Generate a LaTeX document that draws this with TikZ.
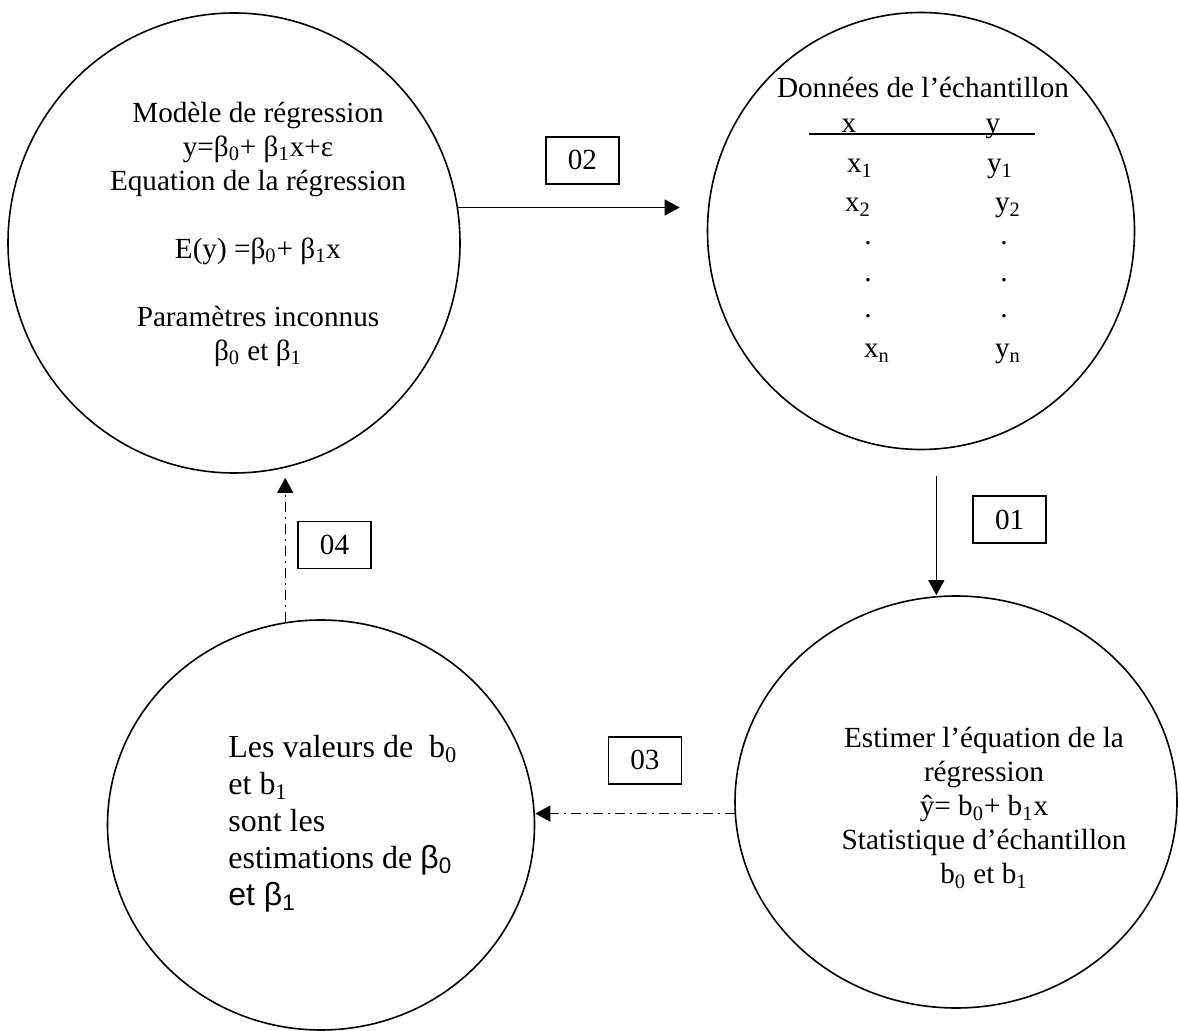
\documentclass[tikz,border=0pt]{standalone}
\usepackage{fontspec}
\setmainfont{Liberation Serif}
\newfontfamily\arialfont{Liberation Sans}
\usetikzlibrary{arrows.meta, calc, positioning, shapes.geometric}
\newcommand{\idx}[1]{\textsubscript{#1}}

\begin{document}
\begin{tikzpicture}[
    x=0.5pt, y=-0.5pt,
    >={Triangle[length=7.5pt, width=8pt]},
    every node/.style={font=\fontsize{14.6}{17}\selectfont},
    bulle/.style={draw, ellipse, line width=0.8pt, inner sep=0pt},
    txt/.style  ={align=center, inner sep=0pt},
    lbl/.style  ={draw, solid, line width=0.8pt, inner sep=0pt,
                  minimum width=36.5pt, minimum height=23.5pt},
    flow/.style ={->, line width=0.65pt},
    back/.style ={->, line width=0.65pt,
                  dash pattern=on 5pt off 2.5pt on 1pt off 2.5pt},
]
\useasboundingbox (0,0) rectangle (1178,1031);

% the four steps
\node[bulle, minimum width=226pt, minimum height=230pt]   (modele)  at (234,243) {};
\node[bulle, minimum width=213.5pt, minimum height=218.5pt] (donnees) at (921,231) {};
\node[bulle, minimum width=213.5pt, minimum height=205pt] (valeurs) at (321,825) {};
\node[bulle, minimum width=221pt, minimum height=206pt]   (estim)   at (956,802) {};

\node[txt] (tmodele) at (258,234) {Modèle de régression\\
    y=β\idx{0}+ β\idx{1}x+ε\\
    Equation de la régression\\[17pt]
    E(y) =β\idx{0}+ β\idx{1}x\\[17pt]
    Paramètres inconnus\\
    β\idx{0} et β\idx{1}};

\node[txt, anchor=base] (tdonnees) at (923,98) {Données de l’échantillon};
\node[txt, anchor=base] (hx) at (849,133) {x};
\node[txt, anchor=base] (hy) at (993,133) {y};
\draw[line width=0.8pt] (809,134) -- (1035,134);
\foreach \xc/\xt/\yc/\yt/\bl [count=\i] in {
    860/x\idx{1}/1000/y\idx{1}/173,
    858/x\idx{2}/1008/y\idx{2}/212,
    868/./1004/./245,
    868/./1004/./282,
    868/./1004/./318,
    877/x\idx{n}/1008/y\idx{n}/358}
  {
    \node[txt, anchor=base] (rx\i) at (\xc,\bl) {\xt};
    \node[txt, anchor=base] (ry\i) at (\yc,\bl) {\yt};
  }

\node[txt, align=left, anchor=west, font=\fontsize{16}{18.5}\selectfont]
    (tvaleurs) at (228,824) {Les valeurs de~~b\idx{0}\\
    et b\idx{1}\\
    sont les\\
    estimations de {\arialfont β\idx{0}}\\
    {\arialfont et β\idx{1}}};

\node[txt] (testim) at (984,808) {Estimer l’équation de la\\
    régression\\
    ŷ= b\idx{0}+ b\idx{1}x\\
    Statistique d’échantillon\\
    b\idx{0} et b\idx{1}};

% connectors
\draw[flow, shorten >=13.5pt] (modele.9) -- (modele.9 -| donnees.west)
    node[lbl, midway, above=11.5pt] (l02) {02};
\draw[flow, shorten <=13pt] (donnees.-86) -- (donnees.-86 |- estim.north)
    node[lbl, pos=0.48, right=18pt] (l01) {01};
\draw[back] (estim.183) -- (estim.183 -| valeurs.east)
    node[lbl, pos=0.45, above=14.5pt] (l03) {03};
\draw[back, shorten >=2pt] (valeurs.100) -- (valeurs.100 |- modele.south)
    node[lbl, pos=0.52, right=6pt] (l04) {04};
\end{tikzpicture}
\end{document}
